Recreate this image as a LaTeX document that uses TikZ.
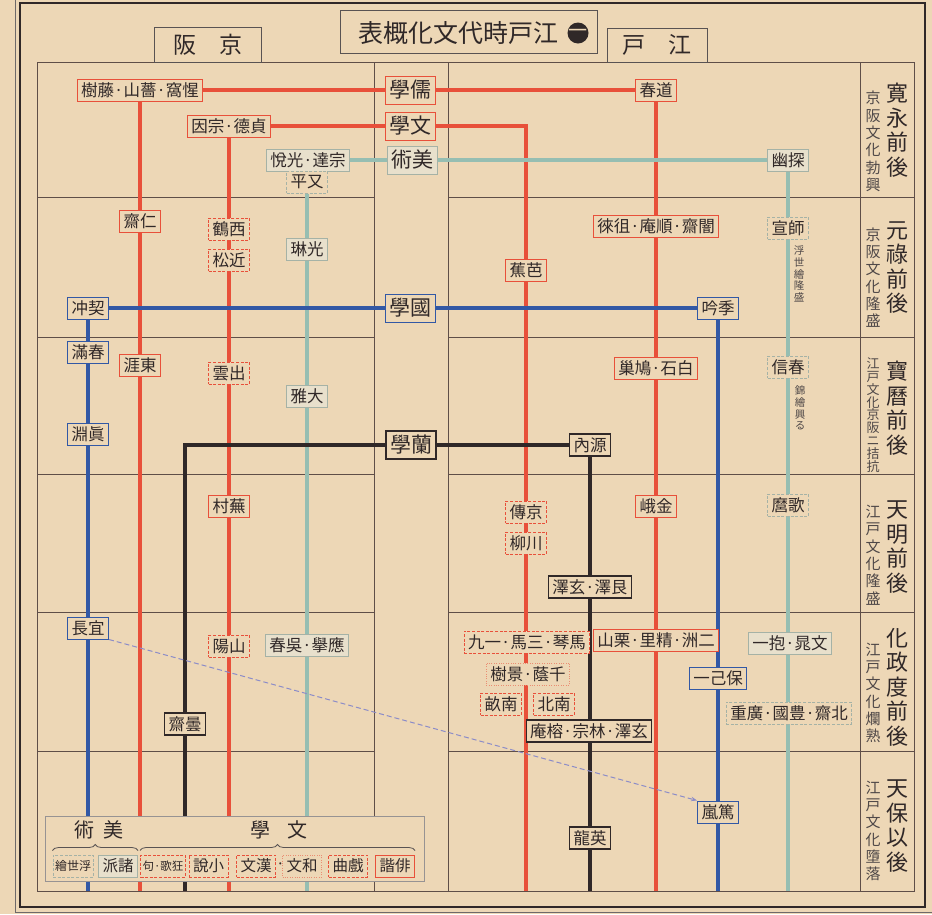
\documentclass[tikz,border=0pt]{standalone}
\usepackage{fontspec}
\setmainfont{Noto Sans CJK JP}
\usepackage{tikz}
\usetikzlibrary{arrows.meta, backgrounds, decorations.pathreplacing}
\definecolor{paper}{RGB}{237, 215, 182}
\definecolor{ink}{RGB}{48, 40, 40}
\definecolor{gridline}{RGB}{95, 78, 72}
\definecolor{jred}{RGB}{232, 80, 58}
\definecolor{jblue}{RGB}{50, 88, 165}
\definecolor{jteal}{RGB}{150, 190, 178}
\definecolor{tealedge}{RGB}{165, 178, 166}
\definecolor{tealfill}{RGB}{232, 224, 204}
\definecolor{kokuline}{RGB}{140, 140, 200}

\begin{document}
\begin{tikzpicture}[
  x=1pt, y=-1pt,
  lbl/.style={rectangle, fill=paper, text=ink, inner xsep=4pt, inner ysep=0pt, minimum height=22pt, line width=1pt, font=\fontsize{16.5}{18}\selectfont},
  redbox/.style={lbl, draw=jred},
  reddash/.style={lbl, draw=jred, dash pattern=on 3pt off 1.6pt},
  reddot/.style={lbl, draw=jred!55!paper, dash pattern=on 1pt off 1.4pt},
  bluebox/.style={lbl, draw=jblue},
  blackbox/.style={lbl, draw=ink, line width=1.3pt},
  tealbox/.style={lbl, draw=tealedge, fill=tealfill},
  tealdash/.style={lbl, draw=tealedge, dash pattern=on 3pt off 1.6pt},
  bigbox/.style={minimum height=28pt, inner xsep=4pt, font=\fontsize{21}{24}\selectfont},
  hdr/.style={rectangle, draw=ink!80, line width=0.8pt, fill=paper, text=ink, font=\fontsize{23}{26}\selectfont},
  era/.style={align=center, text=ink, inner sep=0pt, font=\fontsize{22}{24.5}\selectfont},
  erasub/.style={align=center, text=ink!85, inner sep=0pt, font=\fontsize{15}{17.3}\selectfont},
  note/.style={align=center, text=ink!85, inner sep=0pt, font=\fontsize{10.5}{11.6}\selectfont},
  grid/.style={draw=gridline, line width=0.8pt},
  redline/.style={draw=jred, line width=3.8pt},
  blueline/.style={draw=jblue, line width=3.8pt},
  tealline/.style={draw=jteal, line width=3.8pt},
  blackline/.style={draw=ink, line width=3.8pt},
  brace/.style={draw=ink!80, line width=0.8pt, decorate, decoration={brace, amplitude=6pt}}
]
  \useasboundingbox (0,0) rectangle (932,914);

  \begin{scope}[on background layer]
    \fill[paper] (0,0) rectangle (932,914);
    \draw[ink, line width=1.6pt] (20,3) rectangle (925,907);
    \draw[ink!70, line width=0.6pt] (15,0) -- (15,912) -- (932,912);
    % table
    \draw[grid] (37,62) rectangle (914,891);
    \draw[grid] (374,62) -- (374,891) (448,62) -- (448,891) (860,62) -- (860,891);
    \draw[grid] (37,197) -- (374,197) (448,197) -- (914,197)
                (37,337) -- (374,337) (448,337) -- (914,337)
                (37,474) -- (374,474) (448,474) -- (914,474)
                (37,612) -- (374,612) (448,612) -- (914,612)
                (37,751) -- (374,751) (448,751) -- (914,751);
  \end{scope}

  % headings
  \node[hdr, minimum width=257pt, minimum height=43pt] (title) at (468.5,31.5) {};
  \node[text=ink, inner sep=0pt, font=\fontsize{25}{28}\selectfont] (titletext) at (458,33) {表概化文代時戸江};
  \node[circle, fill=ink, text=paper, inner sep=0pt, minimum size=21pt, font=\fontsize{19}{19}\selectfont] (titlemark) at (578,33) {一};
  \node[hdr, minimum width=107pt, minimum height=35pt] (kyoto) at (207.5,44.5) {阪　京};
  \node[hdr, minimum width=100pt, minimum height=34pt] (edo) at (657,45) {戸　江};

  % eras
  \node[era] (era1) at (897,130) {寛\\永\\前\\後};
  \node[erasub] (sub1) at (873,141.5) {京\\阪\\文\\化\\勃\\興};
  \node[era] (era2) at (897,267.5) {元\\祿\\前\\後};
  \node[erasub] (sub2) at (873,277.5) {京\\阪\\文\\化\\隆\\盛};
  \node[era] (era3) at (897,408) {寶\\曆\\前\\後};
  \node[erasub, font=\fontsize{13}{12.8}\selectfont] (sub3) at (873,415) {江\\戸\\文\\化\\京\\阪\\ニ\\拮\\抗};
  \node[era] (era4) at (897,547) {天\\明\\前\\後};
  \node[erasub] (sub4) at (873,555) {江\\戸\\文\\化\\隆\\盛};
  \node[era] (era5) at (897,687) {化\\政\\度\\前\\後};
  \node[erasub] (sub5) at (873,693) {江\\戸\\文\\化\\爛\\熟};
  \node[era] (era6) at (897,826) {天\\保\\以\\後};
  \node[erasub] (sub6) at (873,831) {江\\戸\\文\\化\\墮\\落};

  % fields
  \node[redbox, bigbox] (jugaku) at (410,90) {學儒};
  \node[redbox, bigbox] (bungaku) at (410,126) {學文};
  \node[tealbox, bigbox] (bijutsu) at (412,160) {術美};
  \node[bluebox, bigbox] (kokugaku) at (410,308) {學國};
  \node[blackbox, bigbox] (rangaku) at (411,445) {學蘭};

  % kamigata
  \node[redbox] (seika) at (140,90) {樹藤·山薔·窩惺};
  \node[redbox] (teitoku) at (229,126) {因宗·德貞};
  \node[tealbox] (koetsu) at (308,160) {悅光·達宗};
  \node[tealdash] (matabei) at (307,182) {平又};
  \node[redbox] (jinsai) at (140,221) {齋仁};
  \node[reddash] (saikaku) at (229,229) {鶴西};
  \node[reddash] (chikamatsu) at (229,260) {松近};
  \node[tealbox] (korin) at (307,249) {琳光};
  \node[bluebox] (keichu) at (88,308) {冲契};
  \node[bluebox] (azumamaro) at (88,352) {滿春};
  \node[bluebox] (mabuchi) at (88,434) {淵眞};
  \node[redbox] (togai) at (140,365) {涯東};
  \node[reddash] (izumo) at (229,373) {雲出};
  \node[tealbox] (taiga) at (307,396) {雅大};
  \node[redbox] (buson) at (229,506) {村蕪};
  \node[bluebox] (norinaga) at (88,628) {長宜};
  \node[reddash] (sanyo) at (229,646) {陽山};
  \node[tealbox] (goshun) at (307,645) {春吳·擧應};
  \node[blackbox] (donsai) at (185,724) {齋曇};

  % edo
  \node[redbox] (doshun) at (656,90) {春道};
  \node[tealbox] (tanyu) at (788,160) {幽探};
  \node[redbox] (sorai) at (656,226) {徠徂·庵順·齋闇};
  \node[tealdash] (moronobu) at (788,228) {宣師};
  \node[note] (ukiyonote) at (799,274) {浮\\世\\繪\\隆\\盛};
  \node[redbox] (basho) at (526,270) {蕉芭};
  \node[bluebox] (kigin) at (718,308) {吟季};
  \node[redbox] (hakuseki) at (656,368) {巢鳩·石白};
  \node[tealdash] (harunobu) at (788,367) {信春};
  \node[note] (nishikinote) at (800,408) {錦\\繪\\興\\る};
  \node[blackbox] (gennai) at (590,445) {內源};
  \node[reddash] (kyoden) at (526,512) {傳京};
  \node[reddash] (senryu) at (526,543) {柳川};
  \node[redbox] (kinga) at (656,506) {峨金};
  \node[tealdash] (utamaro) at (788,505) {麿歌};
  \node[blackbox] (gentaku) at (590,587) {澤玄·澤艮};
  \node[reddash] (bakin) at (527,642) {九一·馬三·琴馬};
  \node[redbox] (sanjin) at (656,640) {山栗·里精·洲二};
  \node[tealbox] (buncho) at (790,643) {一抱·晁文};
  \node[reddot] (kagaki) at (528,674) {樹景·蔭千};
  \node[bluebox] (hokiichi) at (718,678) {一己保};
  \node[reddash] (nanpo) at (501,704) {畝南};
  \node[reddash] (nanboku) at (554,704) {北南};
  \node[tealdash] (hokusai) at (789,713) {重廣·國豊·齋北};
  \node[blackbox] (shinsai) at (589,731) {庵榕·宗林·澤玄};
  \node[bluebox] (atsutane) at (718,812) {嵐篤};
  \node[blackbox] (eiryu) at (590,838) {龍英};

  % line ends
  \coordinate (redAend) at (140,891);
  \coordinate (redBend) at (229,891);
  \coordinate (redCend) at (526,891);
  \coordinate (redDend) at (656,891);
  \coordinate (blueAend) at (88,891);
  \coordinate (blueBend) at (718,891);
  \coordinate (tealAend) at (307,891);
  \coordinate (tealBend) at (788,891);
  \coordinate (blackAend) at (185,891);
  \coordinate (blackBend) at (590,891);

  \begin{scope}[on background layer]
    \draw[redline] (seika) -- (jugaku);
    \draw[redline] (jugaku) -- (doshun);
    \draw[redline] (teitoku) -- (bungaku);
    \draw[redline] (bungaku) -| (redCend);
    \draw[redline] (seika) -- (redAend);
    \draw[redline] (teitoku) -- (redBend);
    \draw[redline] (doshun) -- (redDend);
    \draw[tealline] (koetsu) -- (bijutsu);
    \draw[tealline] (bijutsu) -- (tanyu);
    \draw[tealline] (matabei) -- (tealAend);
    \draw[tealline] (tanyu) -- (tealBend);
    \draw[blueline] (keichu) -- (kokugaku);
    \draw[blueline] (kokugaku) -- (kigin);
    \draw[blueline] (keichu) -- (blueAend);
    \draw[blueline] (kigin) -- (blueBend);
    \draw[blackline] (rangaku) -| (blackAend);
    \draw[blackline] (rangaku) -- (gennai);
    \draw[blackline] (gennai) -- (blackBend);
    \draw[kokuline, line width=1pt, dash pattern=on 5pt off 3pt, -{Stealth[length=6pt]}] (norinaga.south east) -- (atsutane.north west);
  \end{scope}

  % legend
  \node[rectangle, draw=ink!50, fill=paper, line width=0.8pt, minimum width=379pt, minimum height=65pt] (legend) at (234.5,848.5) {};
  \node[text=ink, font=\fontsize{20}{22}\selectfont] (lgart) at (99,830) {術\hspace{9pt}美};
  \node[text=ink, font=\fontsize{20}{22}\selectfont] (lglit) at (279,830) {學\hspace{17pt}文};
  \node[tealdash, inner xsep=2pt, font=\fontsize{12}{13}\selectfont] (lgukiyoe) at (73,866) {繪世浮};
  \node[tealbox, font=\fontsize{15.5}{17}\selectfont] (lgshoha) at (118,866) {派諸};
  \node[reddash, inner xsep=2pt, font=\fontsize{11.5}{13}\selectfont] (lgkyoka) at (163,866) {句·歌狂};
  \node[reddash, font=\fontsize{15.5}{17}\selectfont] (lgshosetsu) at (208.5,866) {說小};
  \node[reddash, font=\fontsize{15.5}{17}\selectfont] (lgkanbun) at (256,866) {文漢};
  \node[text=ink, inner sep=0pt, font=\fontsize{15.5}{17}\selectfont] (lgdot) at (280.5,866) {·};
  \node[reddot, font=\fontsize{15.5}{17}\selectfont] (lgwabun) at (302,866) {文和};
  \node[reddash, font=\fontsize{15.5}{17}\selectfont] (lggikyoku) at (348,866) {曲戲};
  \node[redbox, font=\fontsize{15.5}{17}\selectfont] (lghaikai) at (395,866) {諧俳};
  \draw[brace] ([yshift=4pt]lgukiyoe.north west) -- ([yshift=4pt]lgshoha.north east);
  \draw[brace] ([yshift=4pt]lgkyoka.north west) -- ([yshift=4pt]lghaikai.north east);

\end{tikzpicture}
\end{document}
